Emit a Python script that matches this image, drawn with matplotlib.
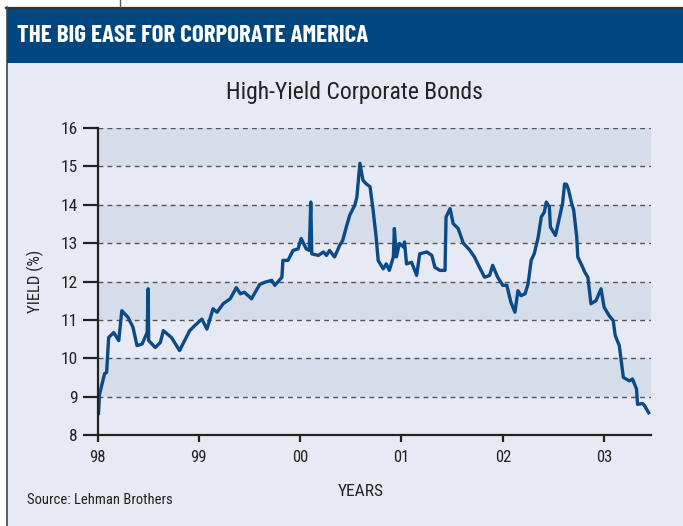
import matplotlib
matplotlib.use("Agg")
import matplotlib.pyplot as plt
from matplotlib.patches import Rectangle
from matplotlib.lines import Line2D

# decimal years and yields (%)
years = [
    1998.01, 1998.02, 1998.07, 1998.09, 1998.11, 1998.16, 1998.21, 1998.24,
    1998.30, 1998.35, 1998.39, 1998.44, 1998.49, 1998.50, 1998.505, 1998.57,
    1998.62, 1998.65, 1998.73, 1998.81, 1998.91, 1998.96, 1999.03, 1999.08,
    1999.14, 1999.18, 1999.24, 1999.31, 1999.37, 1999.41, 1999.45, 1999.52,
    1999.60, 1999.65, 1999.72, 1999.75, 1999.82, 1999.83, 1999.88, 1999.93,
    1999.98, 2000.01, 2000.06, 2000.09, 2000.105, 2000.115, 2000.18, 2000.23,
    2000.26, 2000.29, 2000.34, 2000.39, 2000.42, 2000.46, 2000.49, 2000.54,
    2000.56, 2000.59, 2000.62, 2000.65, 2000.69, 2000.72, 2000.75, 2000.77,
    2000.82, 2000.85, 2000.88, 2000.92, 2000.93, 2000.95, 2000.98, 2001.02,
    2001.03, 2001.05, 2001.10, 2001.15, 2001.18, 2001.25, 2001.30, 2001.33,
    2001.38, 2001.43, 2001.44, 2001.48, 2001.51, 2001.56, 2001.61, 2001.67,
    2001.72, 2001.77, 2001.82, 2001.87, 2001.90, 2001.95, 2002.00, 2002.04,
    2002.08, 2002.12, 2002.15, 2002.18, 2002.22, 2002.25, 2002.28, 2002.31,
    2002.35, 2002.38, 2002.41, 2002.43, 2002.46, 2002.47, 2002.52, 2002.56,
    2002.59, 2002.61, 2002.63, 2002.65, 2002.68, 2002.70, 2002.73, 2002.74,
    2002.78, 2002.81, 2002.84, 2002.87, 2002.92, 2002.97, 2003.00, 2003.05,
    2003.09, 2003.11, 2003.15, 2003.19, 2003.25, 2003.28, 2003.32, 2003.33,
    2003.38, 2003.40, 2003.44,
]
yields = [
    8.56, 9.06, 9.60, 9.63, 10.54, 10.67, 10.46, 11.24,
    11.07, 10.81, 10.33, 10.37, 10.67, 11.81, 10.46, 10.28,
    10.41, 10.72, 10.54, 10.20, 10.72, 10.85, 11.02, 10.76,
    11.29, 11.20, 11.42, 11.55, 11.84, 11.68, 11.72, 11.55,
    11.92, 11.98, 12.03, 11.90, 12.11, 12.55, 12.55, 12.81,
    12.85, 13.12, 12.85, 12.81, 14.07, 12.72, 12.68, 12.77,
    12.68, 12.81, 12.64, 12.94, 13.07, 13.46, 13.73, 13.99,
    14.20, 15.08, 14.64, 14.55, 14.47, 13.86, 13.16, 12.55,
    12.33, 12.46, 12.29, 12.64, 13.38, 12.64, 12.99, 12.90,
    13.03, 12.46, 12.50, 12.16, 12.72, 12.77, 12.68, 12.37,
    12.29, 12.29, 13.68, 13.90, 13.51, 13.38, 13.00, 12.83,
    12.64, 12.37, 12.11, 12.16, 12.42, 12.11, 11.90, 11.90,
    11.46, 11.20, 11.76, 11.63, 11.68, 11.94, 12.55, 12.72,
    13.16, 13.68, 13.81, 14.07, 13.94, 13.42, 13.20, 13.68,
    14.03, 14.54, 14.53, 14.38, 14.03, 13.86, 13.16, 12.64,
    12.42, 12.24, 12.11, 11.42, 11.50, 11.81, 11.33, 11.11,
    10.98, 10.59, 10.33, 9.50, 9.41, 9.46, 9.20, 8.80,
    8.82, 8.76, 8.58,
]
year_ticks = [1998, 1999, 2000, 2001, 2002, 2003]
year_labels = ["98", "99", "00", "01", "02", "03"]
yield_ticks = [8, 9, 10, 11, 12, 13, 14, 15, 16]
shaded_bands = [(9, 10), (11, 12), (13, 14), (15, 16)]

plt.rcParams["font.family"] = ["Roboto Condensed", "DejaVu Sans"]

W, H = 683, 526
BG = "#e7eaf4"
BAND = "#d6ddea"
HEADER = "#00477f"
LINE = "#0b4a86"
INK = "#222222"

fig = plt.figure(figsize=(W / 100, H / 100), dpi=100, facecolor="white")

# page background, header bar and frame lines (pixel coords -> figure coords)
fig.patches.append(Rectangle((7 / W, 0), 1, (H - 63) / H, transform=fig.transFigure,
                             facecolor=BG, edgecolor="none", zorder=-2))
fig.patches.append(Rectangle((7 / W, (H - 63) / H), 1, 55 / H, transform=fig.transFigure,
                             facecolor=HEADER, edgecolor="none", zorder=-2))
fig.lines.append(Line2D([6 / W, 1], [(H - 7.5) / H] * 2, transform=fig.transFigure,
                        color="#333333", lw=1.6))
fig.lines.append(Line2D([6.5 / W] * 2, [0, (H - 7) / H], transform=fig.transFigure,
                        color="#444444", lw=1.2))
fig.lines.append(Line2D([120 / W] * 2, [(H - 7) / H, 1], transform=fig.transFigure,
                        color="#555555", lw=1.0))

fig.text(17 / W, 1 - 36 / H, "THE BIG EASE FOR CORPORATE AMERICA", color="white",
         fontsize=18, fontweight="bold", va="center", ha="left",
         family=["Barlow Condensed", "Roboto Condensed", "DejaVu Sans"])
fig.text(354 / W, 1 - 93 / H, "High-Yield Corporate Bonds", color="#222222",
         fontsize=17, va="center", ha="center")
fig.text(27 / W, 1 - 500 / H, "Source: Lehman Brothers", color="#222222",
         fontsize=10.5, va="center", ha="left")
fig.text(361 / W, 1 - 492 / H, "YEARS", color=INK, fontsize=12.5,
         va="center", ha="center")

ax = fig.add_axes([97.5 / W, (H - 435) / H, (650.7 - 97.5) / W, (435 - 128) / H])
ax.set_facecolor("none")
for lo, hi in shaded_bands:
    ax.axhspan(lo, hi, color=BAND, lw=0, zorder=0)
for t in yield_ticks[1:]:
    ax.axhline(t, color="#555555", lw=1.0, ls=(0, (3.5, 3)), zorder=1)

ax.plot(years, yields, color=LINE, lw=2.4, solid_joinstyle="round", zorder=3)

ax.set_xlim(1998, 2003.46)
ax.set_ylim(8, 16)
ax.set_xticks(year_ticks)
ax.set_xticklabels(year_labels)
ax.set_yticks(yield_ticks)
for s in ["top", "right"]:
    ax.spines[s].set_visible(False)
for s in ["left", "bottom"]:
    ax.spines[s].set_color(INK)
    ax.spines[s].set_linewidth(1.6)
    ax.spines[s].set_zorder(4)
ax.tick_params(axis="y", length=11, width=1.6, color=INK, labelsize=12.5,
               labelcolor=INK, pad=3)
ax.tick_params(axis="x", length=5, width=1.6, color=INK, labelsize=12,
               labelcolor=INK, pad=6)
ax.set_ylabel("YIELD (%)", fontsize=12, color=INK, labelpad=12)

fig.savefig("out.png", dpi=100, facecolor=fig.get_facecolor())
